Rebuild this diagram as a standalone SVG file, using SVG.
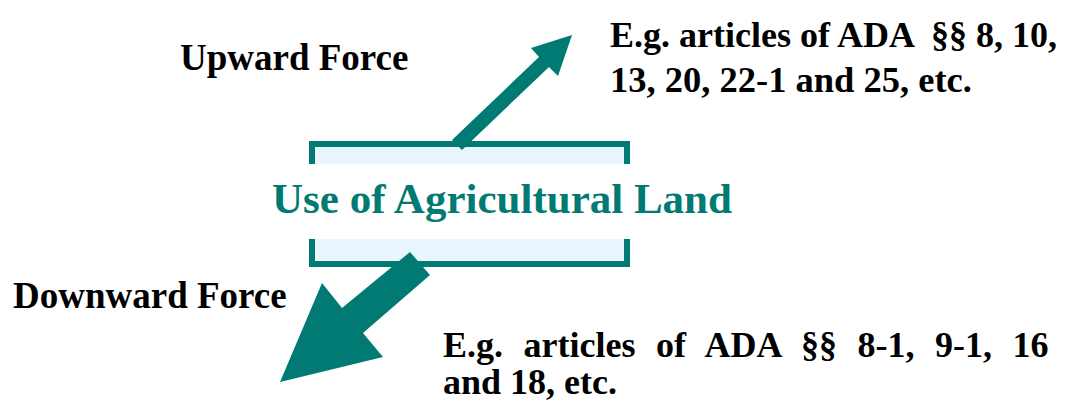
<svg xmlns="http://www.w3.org/2000/svg" width="1073" height="401" viewBox="0 0 1073 401">
<style>
.lbl{font-family:"Liberation Serif","Times New Roman",serif;font-weight:bold;fill:#000}
.main{font-family:"Liberation Serif","Times New Roman",serif;font-weight:bold;fill:#007A72;font-size:43px}
.arrow{fill:#007A72}
</style>
<rect width="1073" height="401" fill="#fff"/>
<g id="node-land">
<rect x="312" y="144" width="315" height="120" fill="#E8F5FC" stroke="#007A72" stroke-width="6"/>
<rect x="268" y="164" width="468" height="75" fill="#fff"/>
<text class="main" x="502" y="213" text-anchor="middle">Use of Agricultural Land</text>
</g>
<g id="connectors">
<polygon class="arrow" points="452,140 462,150 549,67 558,76 572,35 531,48 539,57"/>
<polygon class="arrow" points="410,252 430,275 363,333 383,357 280,382 322,283 342,308"/>
</g>
<g id="label-up">
<text class="lbl" x="180" y="70" font-size="37">Upward Force</text>
</g>
<g id="label-down">
<text class="lbl" x="13" y="308" font-size="37">Downward Force</text>
</g>
<g id="note-up">
<text class="lbl" font-size="36" x="610" y="47" xml:space="preserve">E.g. articles of ADA  §§ 8, 10,</text>
<text class="lbl" font-size="36.5" x="610" y="92">13, 20, 22-1 and 25, etc.</text>
</g>
<g id="note-down">
<text class="lbl" font-size="36" x="443" y="357" word-spacing="11.5">E.g. articles of ADA §§ 8-1, 9-1, 16</text>
<text class="lbl" font-size="36" x="443" y="394">and 18, etc.</text>
</g>
</svg>
